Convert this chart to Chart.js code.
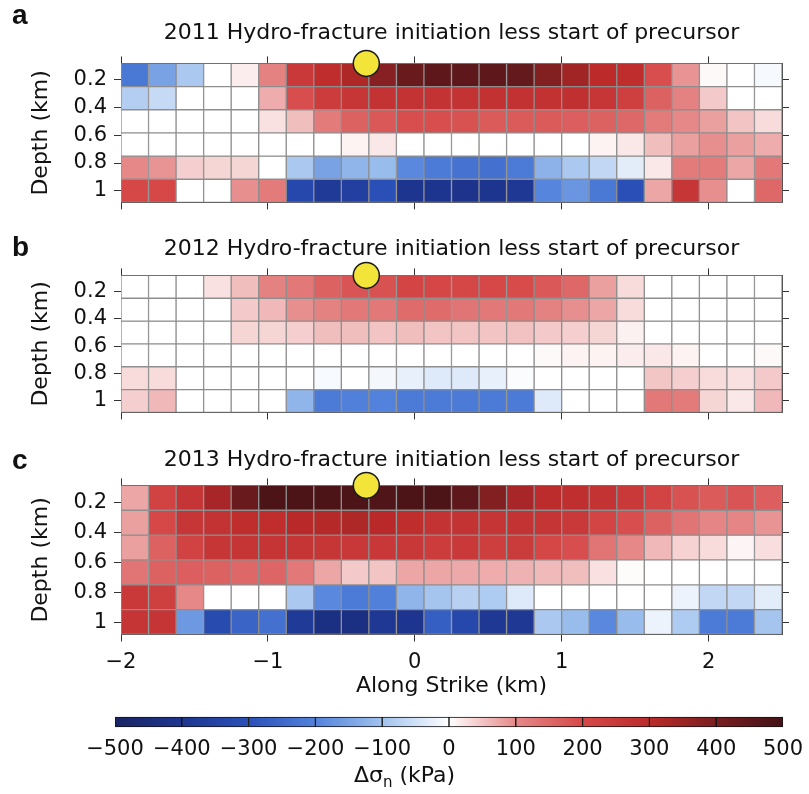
<!DOCTYPE html>
<html>
<head>
<meta charset="utf-8">
<script src="https://cdn.jsdelivr.net/npm/chart.js@4.4.1/dist/chart.umd.min.js"></script>
<style>
  html, body { margin: 0; padding: 0; background: #fff; }
  #page { position: relative; width: 809px; height: 794px; overflow: hidden; color: #111; }
  .box { position: absolute; left: 0; width: 809px; }
  .letter { position: absolute; left: 12px; font: bold 28px "Liberation Sans", Arial, sans-serif; line-height: 28px; z-index: 2; }
  #cbTitle { position: absolute; left: 0; width: 809px; top: 762px; text-align: center;
             font: 22px "DejaVu Sans", sans-serif; line-height: 26px; }
  #cbTitle sub { font-size: 15px; vertical-align: -5px; }
</style>
</head>
<body>
<div id="page">
  <div class="letter" style="top:1px">a</div>
  <div class="letter" style="top:233px">b</div>
  <div class="letter" style="top:446px">c</div>
  <div class="box" style="top:0;height:222px"><canvas id="panel2011"></canvas></div>
  <div class="box" style="top:222px;height:210px"><canvas id="panel2012"></canvas></div>
  <div class="box" style="top:432px;height:268px"><canvas id="panel2013"></canvas></div>
  <div class="box" style="top:700px;height:94px"><canvas id="colorbar"></canvas></div>
  <div id="cbTitle">Δσ<sub>n</sub> (kPa)</div>
</div>
<script>
// cell centres along strike (km) and depth of each row (km)
const strikeKm = [-1.90625, -1.71875, -1.53125, -1.34375, -1.15625, -0.96875, -0.78125, -0.59375,
                  -0.40625, -0.21875, -0.03125, 0.15625, 0.34375, 0.53125, 0.71875, 0.90625,
                  1.09375, 1.28125, 1.46875, 1.65625, 1.84375, 2.03125, 2.21875, 2.40625];
const depthKm = [1 / 6, 2 / 6, 3 / 6, 4 / 6, 5 / 6, 1];
const cellHalfDepth = 1 / 12;

const strikeTicks = [-2, -1, 0, 1, 2];
const strikeTickLabels = ['\u22122', '\u22121', '0', '1', '2'];
const depthTicks = [0.2, 0.4, 0.6, 0.8, 1];
const depthTickLabels = ['0.2', '0.4', '0.6', '0.8', '1'];

// hydro-fracture location
const hydroFractureKm = -0.33;
const hydroFractureDepth = 1 / 12;

// normal stress change, kPa (rows top to bottom)
const stress2011 = [
  [-220, -150, -90, 0, 15, 110, 250, 290, 320, 380, 430, 450, 450, 450, 440, 390, 340, 300, 290, 190, 90, 5, 0, -10],
  [-80, -60, 0, 0, 0, 70, 190, 240, 260, 270, 270, 270, 270, 275, 275, 275, 280, 260, 230, 160, 110, 45, 0, 0],
  [0, 0, 0, 0, 0, 25, 55, 120, 160, 175, 190, 190, 185, 170, 170, 170, 165, 160, 150, 120, 100, 80, 50, 30],
  [0, 0, 0, 0, 0, 0, 0, 0, 10, 20, 0, 0, 0, 0, 0, 0, 0, 10, 20, 55, 80, 95, 80, 70],
  [100, 90, 40, 35, 35, 0, -90, -150, -120, -110, -190, -215, -230, -235, -215, -125, -90, -65, -30, 20, 120, 120, 75, 125],
  [200, 200, 0, 0, 95, 120, -330, -380, -360, -300, -400, -400, -410, -400, -390, -195, -170, -220, -300, 75, 260, 95, 0, 150]
];
const stress2012 = [
  [0, 0, 0, 25, 55, 110, 125, 160, 180, 185, 210, 205, 205, 200, 195, 175, 150, 80, 30, 0, 0, 0, 0, 0],
  [0, 0, 0, 0, 45, 60, 95, 110, 125, 125, 145, 145, 130, 125, 125, 110, 95, 75, 30, 0, 0, 0, 0, 0],
  [0, 0, 0, 0, 35, 35, 40, 55, 55, 50, 55, 50, 50, 50, 52, 45, 40, 35, 12, 0, 0, 0, 0, 0],
  [0, 0, 0, 0, 0, 0, 0, 0, 0, 0, 0, 0, 0, 0, 0, 5, 10, 10, 15, 20, 10, 0, 0, 5],
  [30, 30, 0, 0, 0, 0, 0, -8, 0, -12, -25, -35, -35, -25, -5, 0, 0, 0, 0, 48, 40, 30, 25, 45],
  [40, 60, 0, 0, 0, 0, -120, -215, -205, -200, -215, -215, -215, -215, -215, -35, 0, 0, 0, 125, 120, 35, 20, 60]
];
const stress2013 = [
  [75, 220, 265, 330, 430, 480, 480, 480, 480, 475, 480, 480, 450, 390, 330, 295, 285, 270, 250, 215, 185, 170, 180, 165],
  [80, 200, 260, 270, 290, 290, 305, 310, 320, 305, 290, 270, 270, 265, 270, 265, 250, 210, 190, 160, 130, 105, 105, 90],
  [80, 160, 220, 260, 265, 265, 265, 260, 255, 255, 255, 240, 250, 235, 245, 205, 190, 130, 100, 60, 38, 30, 8, 28],
  [130, 160, 165, 160, 150, 155, 125, 75, 45, 50, 75, 75, 72, 70, 65, 58, 55, 25, 3, 0, 0, 0, 0, 0],
  [250, 230, 100, 0, 0, 0, -90, -190, -215, -205, -120, -95, -75, -85, -35, 0, 0, 0, 0, 0, -20, -65, -65, -30],
  [265, 265, -165, -320, -260, -235, -380, -430, -430, -390, -400, -270, -330, -390, -390, -90, -110, -190, -110, -20, -85, -215, -215, -95]
];

const colorbarEdges = [-500, -400, -300, -200, -100, 0, 100, 200, 300, 400, 500];

// blue-white-red colour scale
const cmapStops = [-500, -400, -300, -200, -100, 0, 100, 200, 300, 400, 500];
const cmapRgb = [
  [24, 36, 100], [30, 53, 144], [42, 80, 184], [82, 130, 220], [160, 194, 238],
  [255, 255, 255],
  [230, 136, 136], [214, 72, 72], [188, 42, 42], [122, 30, 32], [66, 18, 22]
];

function stressColor(v) {
  v = Math.max(-500, Math.min(500, v));
  let i = 0;
  while (i < cmapStops.length - 2 && v > cmapStops[i + 1]) i++;
  const t = (v - cmapStops[i]) / (cmapStops[i + 1] - cmapStops[i]);
  const a = cmapRgb[i], b = cmapRgb[i + 1];
  const c = a.map((ch, k) => Math.round(ch + (b[k] - ch) * t));
  return `rgb(${c[0]}, ${c[1]}, ${c[2]})`;
}

Chart.defaults.font.family = '"DejaVu Sans", sans-serif';
Chart.defaults.color = '#111';
Chart.defaults.animation = false;

const tickFont = { size: 21 };
const labelFont = { size: 22 };
const tickMarks = { display: true, drawOnChartArea: false, drawTicks: true, tickLength: 7,
                    color: '#333', lineWidth: 1, offset: false };
const frameLine = { display: true, color: '#555', width: 1 };

function strikeAxis(position, showLabels, height) {
  return {
    type: 'linear', axis: 'x', position: position, min: -2, max: 2.5, offset: false,
    afterBuildTicks: (ax) => { ax.ticks = strikeTicks.map(v => ({ value: v })); },
    afterFit: (ax) => { ax.height = height; },
    ticks: { display: showLabels, padding: 8, font: tickFont,
             callback: (v) => strikeTickLabels[strikeTicks.indexOf(v)] },
    grid: tickMarks,
    border: frameLine,
    title: { display: showLabels && position === 'bottom', text: 'Along Strike (km)',
             font: labelFont, padding: { top: 0, bottom: 1 } }
  };
}

function depthAxis(position, width) {
  const left = position === 'left';
  return {
    type: 'linear', axis: 'y', position: position, reverse: true,
    min: 1 / 12, max: 13 / 12, offset: false,
    afterBuildTicks: (ax) => { ax.ticks = depthTicks.map(v => ({ value: v })); },
    afterFit: (ax) => { ax.width = width; },
    ticks: { display: left, padding: 7, font: tickFont,
             callback: (v) => depthTickLabels[depthTicks.indexOf(v)] },
    grid: tickMarks,
    border: frameLine,
    title: { display: left, text: 'Depth (km)', font: labelFont, padding: { top: 28, bottom: 0 } }
  };
}

function makePanel(canvasId, title, grid, lay) {
  const datasets = [{
    type: 'scatter',
    data: [{ x: hydroFractureKm, y: hydroFractureDepth }],
    pointRadius: 13,
    backgroundColor: '#f3e43a',
    borderColor: '#1a1a1a',
    borderWidth: 1.5,
    clip: false,
    order: -1
  }];
  grid.forEach((row, r) => {
    datasets.push({
      type: 'bar',
      data: strikeKm.map(x => ({ x: x, y: [depthKm[r] - cellHalfDepth, depthKm[r] + cellHalfDepth] })),
      backgroundColor: row.map(stressColor),
      borderColor: '#8e8e8e',
      borderWidth: 1,
      borderSkipped: false,
      grouped: false,
      barPercentage: 1,
      categoryPercentage: 1
    });
  });

  return new Chart(document.getElementById(canvasId), {
    type: 'bar',
    data: { datasets: datasets },
    options: {
      responsive: true,
      maintainAspectRatio: false,
      events: [],
      layout: { padding: 0 },
      plugins: {
        legend: { display: false },
        tooltip: { enabled: false },
        title: {
          display: true, text: title, fullSize: false,
          font: { size: 22, weight: 'normal' },
          padding: { top: lay.titleTop, bottom: lay.titleBottom }
        }
      },
      scales: {
        x: strikeAxis('bottom', lay.showStrike, lay.bottomHeight),
        xTop: strikeAxis('top', false, 7),
        y: depthAxis('left', 121),
        yRight: depthAxis('right', 27)
      }
    }
  });
}

makePanel('panel2011', '2011 Hydro-fracture initiation less start of precursor', stress2011,
          { titleTop: 20, titleBottom: 10, bottomHeight: 13, showStrike: false });
makePanel('panel2012', '2012 Hydro-fracture initiation less start of precursor', stress2012,
          { titleTop: 14, titleBottom: 6, bottomHeight: 9, showStrike: false });
makePanel('panel2013', '2013 Hydro-fracture initiation less start of precursor', stress2013,
          { titleTop: 15, titleBottom: 5, bottomHeight: 65.5, showStrike: true });

// colour bar: one floating bar per 100 kPa band, shaded with the same scale
new Chart(document.getElementById('colorbar'), {
  type: 'bar',
  data: {
    labels: ['band'],
    datasets: [{
      data: colorbarEdges.slice(0, -1).map((lo, i) => ({ x: [lo, colorbarEdges[i + 1]], y: 'band' })),
      backgroundColor: (ctx) => {
        const lo = colorbarEdges[ctx.dataIndex];
        const hi = colorbarEdges[ctx.dataIndex + 1];
        const xs = ctx.chart.scales.x;
        if (!xs || !ctx.chart.chartArea) return stressColor((lo + hi) / 2);
        const g = ctx.chart.ctx.createLinearGradient(xs.getPixelForValue(lo), 0, xs.getPixelForValue(hi), 0);
        g.addColorStop(0, stressColor(lo));
        g.addColorStop(0.5, stressColor((lo + hi) / 2));
        g.addColorStop(1, stressColor(hi));
        return g;
      },
      borderColor: '#111',
      borderWidth: 1,
      borderSkipped: false,
      barThickness: 10
    }]
  },
  options: {
    indexAxis: 'y',
    responsive: true,
    maintainAspectRatio: false,
    events: [],
    layout: { padding: { left: 115, right: 26, top: 12, bottom: 0 } },
    plugins: { legend: { display: false }, tooltip: { enabled: false } },
    scales: {
      x: {
        type: 'linear', min: -500, max: 500,
        afterBuildTicks: (ax) => { ax.ticks = colorbarEdges.map(v => ({ value: v })); },
        afterFit: (ax) => { ax.height = 62; },
        ticks: { padding: 5, font: tickFont, maxRotation: 0, autoSkip: false,
                 callback: (v) => (v < 0 ? '\u2212' + Math.abs(v) : String(v)) },
        grid: { display: false, drawTicks: false },
        border: { display: false }
      },
      y: { display: false }
    }
  }
});
</script>
</body>
</html>
